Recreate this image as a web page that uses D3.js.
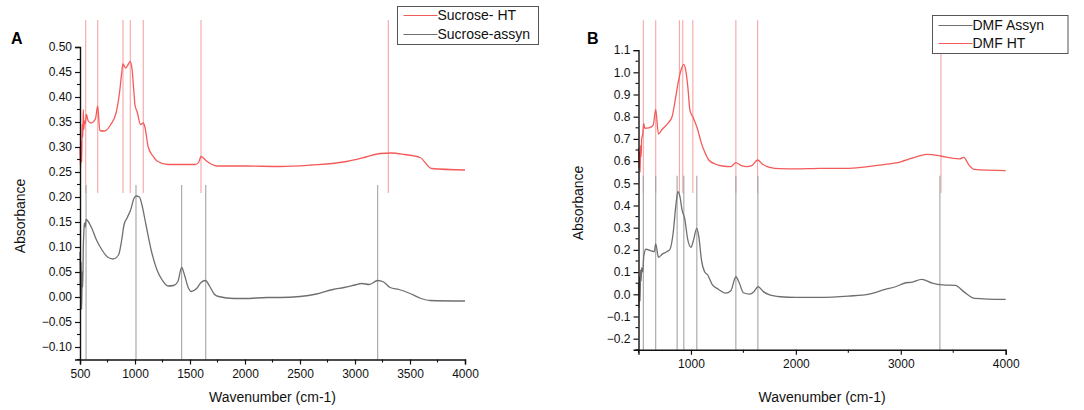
<!DOCTYPE html>
<html><head><meta charset="utf-8">
<script src="https://cdn.jsdelivr.net/npm/d3@7"></script>
<style>body{margin:0;background:#fff;}svg{display:block;font-family:"Liberation Sans",Arial,sans-serif;}</style>
</head><body>
<svg id="c" width="1084" height="410"></svg>
<script>
// ---------- Panel A data ----------
const sucHT_wn  = [500,505,510,515,520,525,530,535,540,548,558,575,600,640,661,680,720,780,830,860,880,890,915,940,957,975,990,1000,1020,1050,1075,1090,1120,1167,1200,1300,1550,1580,1600,1650,1700,1750,2000,2318,2600,2924,3100,3227,3330,3450,3591,3697,4000];
const sucHT_abs = [0.300,0.255,0.310,0.270,0.345,0.320,0.375,0.335,0.352,0.346,0.365,0.352,0.348,0.356,0.382,0.333,0.332,0.345,0.370,0.410,0.450,0.466,0.458,0.466,0.471,0.452,0.410,0.384,0.370,0.345,0.348,0.340,0.300,0.281,0.272,0.265,0.265,0.270,0.281,0.272,0.265,0.262,0.262,0.261,0.264,0.271,0.280,0.287,0.288,0.285,0.279,0.257,0.254];
const sucAs_wn  = [500,505,510,515,520,525,530,535,540,548,555,600,650,700,750,800,850,879,900,930,960,990,1010,1040,1060,1100,1150,1200,1250,1300,1350,1390,1424,1450,1480,1510,1560,1600,1640,1680,1720,1760,1900,2000,2200,2318,2500,2650,2800,2900,3000,3060,3130,3206,3260,3320,3400,3500,3600,3680,4000];
const sucAs_abs = [0.090,-0.020,0.070,-0.025,0.050,0.020,0.100,0.130,0.148,0.140,0.155,0.141,0.114,0.094,0.080,0.076,0.084,0.114,0.144,0.159,0.174,0.197,0.202,0.200,0.187,0.144,0.091,0.054,0.033,0.022,0.023,0.031,0.059,0.044,0.021,0.011,0.017,0.029,0.033,0.021,0.006,0.001,-0.003,-0.003,-0.001,-0.001,0.001,0.006,0.015,0.019,0.024,0.027,0.025,0.033,0.030,0.019,0.015,0.007,-0.003,-0.007,-0.008];
const sucHT_marks = [552,661,891,957,1075,1600,3303];
const sucAs_marks = [555,1009,1424,1643,3206];
const A_xTicks = [500,1000,1500,2000,2500,3000,3500,4000];
const A_yTicks = [-0.10,-0.05,0,0.05,0.10,0.15,0.20,0.25,0.30,0.35,0.40,0.45,0.50];
const A_names = ["Sucrose- HT","Sucrose-assyn"];

// ---------- Panel B data ----------
const dmfHT_wn  = [500,505,510,515,520,525,530,540,550,560,600,640,664,690,720,780,820,850,880,905,930,950,970,990,1020,1060,1100,1130,1170,1230,1300,1380,1428,1480,1530,1580,1635,1680,1750,1850,2000,2234,2500,2800,3000,3100,3250,3380,3500,3560,3600,3650,3700,4000];
const dmfHT_abs = [0.660,0.570,0.640,0.550,0.670,0.620,0.700,0.720,0.770,0.748,0.750,0.762,0.833,0.722,0.740,0.770,0.800,0.875,0.958,1.010,1.036,1.010,0.935,0.830,0.797,0.748,0.680,0.642,0.605,0.587,0.578,0.575,0.593,0.580,0.575,0.580,0.605,0.587,0.572,0.566,0.565,0.567,0.567,0.582,0.597,0.612,0.630,0.623,0.612,0.610,0.617,0.582,0.563,0.557];
const dmfAs_wn  = [500,505,510,515,520,525,530,540,550,570,620,650,664,690,730,770,800,830,855,875,895,915,940,970,1000,1025,1055,1075,1100,1130,1160,1200,1260,1330,1380,1428,1460,1500,1560,1600,1640,1690,1750,1850,2000,2234,2500,2700,2850,2950,3050,3100,3200,3300,3400,3520,3600,3700,4000];
const dmfAs_abs = [0.050,-0.060,0.080,-0.030,0.110,0.060,0.120,0.100,0.170,0.203,0.196,0.192,0.227,0.167,0.182,0.192,0.203,0.275,0.395,0.462,0.440,0.380,0.342,0.245,0.212,0.245,0.297,0.260,0.155,0.102,0.087,0.046,0.023,0.005,0.016,0.079,0.052,0.007,0.001,0.012,0.034,0.012,-0.003,-0.011,-0.014,-0.014,-0.008,0.001,0.022,0.034,0.052,0.054,0.067,0.050,0.042,0.040,0.012,-0.018,-0.023];
const dmfHT_marks = [546,664,890,922,1018,1428,1635,3383];
const dmfAs_marks = [546,664,868,932,1056,1428,1638,3373];
const B_xTicks = [1000,2000,3000,4000];
const B_xMinor = [500,1500,2500,3500];
const B_yTicks = [-0.2,-0.1,0,0.1,0.2,0.3,0.4,0.5,0.6,0.7,0.8,0.9,1.0,1.1];
const B_names = ["DMF Assyn","DMF HT"];

const RED="#f55a5a", REDL="#f7a5a5", GRAY="#6f6f6f", GRAYL="#a3a3a3";
const svg = d3.select("#c");

function zip(w,a){return w.map((x,i)=>[x,a[i]]);}

function panel(cfg){
  const g = svg.append("g");
  const x = d3.scaleLinear().domain([500,4000]).range(cfg.xr);
  const y = d3.scaleLinear().domain(cfg.yd).range(cfg.yr);
  // marker lines
  cfg.marks.forEach(m=>{
    g.selectAll(null).data(m.xs).enter().append("line")
      .attr("x1",d=>x(d)).attr("x2",d=>x(d))
      .attr("y1",y(m.top)).attr("y2",y(m.bot))
      .attr("stroke",m.color).attr("stroke-width",1.1);
  });
  const line = d3.line().x(d=>x(d[0])).y(d=>y(d[1])).curve(d3.curveMonotoneX);
  cfg.series.forEach(s=>{
    g.append("path").datum(zip(s.wn,s.abs)).attr("d",line)
      .attr("fill","none").attr("stroke",s.color).attr("stroke-width",1.3);
  });
  // axes
  const yAx = d3.axisLeft(y).tickValues(cfg.yTicks).tickSizeOuter(0).tickSize(5).tickPadding(3).tickFormat(cfg.yFmt);
  const yg = g.append("g").attr("transform",`translate(${cfg.xr[0]},0)`).call(yAx);
  const xAx = d3.axisBottom(x).tickValues(cfg.xTicks).tickSizeOuter(0).tickSize(5).tickPadding(5).tickFormat(d3.format("d"));
  const xg = g.append("g").attr("transform",`translate(0,${cfg.yr[0]})`).call(xAx);
  [yg,xg].forEach(a=>{
    a.select(".domain").attr("stroke","#111").attr("stroke-width",1.4);
    a.selectAll(".tick line").attr("stroke","#111").attr("stroke-width",1.2);
    a.selectAll("text").attr("font-size",12).attr("fill","#111").attr("font-family","Liberation Sans, Arial, sans-serif");
  });
  // minor ticks
  g.selectAll(null).data(cfg.yMinor).enter().append("line")
    .attr("x1",cfg.xr[0]-3).attr("x2",cfg.xr[0]).attr("y1",d=>y(d)).attr("y2",d=>y(d))
    .attr("stroke","#111").attr("stroke-width",1.1);
  g.selectAll(null).data(cfg.xMinor).enter().append("line")
    .attr("y1",cfg.yr[0]).attr("y2",cfg.yr[0]+3).attr("x1",d=>x(d)).attr("x2",d=>x(d))
    .attr("stroke","#111").attr("stroke-width",1.1);
  // titles
  g.append("text").attr("x",(cfg.xr[0]+cfg.xr[1])/2).attr("y",402).attr("text-anchor","middle")
    .attr("font-size",14).attr("fill","#111").text("Wavenumber (cm-1)");
  g.append("text").attr("transform",`translate(${cfg.ylx},${cfg.yly}) rotate(-90)`).attr("text-anchor","middle")
    .attr("font-size",14).attr("fill","#111").text("Absorbance");
  g.append("text").attr("x",cfg.lab[0]).attr("y",cfg.lab[1]).attr("font-size",16).attr("font-weight","bold")
    .attr("fill","#000").text(cfg.label);
  // legend
  const L = cfg.legend;
  g.append("rect").attr("x",L.x).attr("y",L.y).attr("width",L.w).attr("height",L.h)
    .attr("fill","#fff").attr("stroke","#555").attr("stroke-width",1);
  L.items.forEach((it,i)=>{
    const yy = L.y + L.first + i*L.step;
    g.append("line").attr("x1",L.x+6).attr("x2",L.x+40).attr("y1",yy).attr("y2",yy)
      .attr("stroke",it.color).attr("stroke-width",1.2);
    g.append("text").attr("x",L.x+40).attr("y",yy).attr("dy","0.35em").attr("font-size",14)
      .attr("fill","#111").text(it.name);
  });
}

const minor = (lo,hi,st)=>d3.range(Math.round((hi-lo)/st)+1).map(i=>+(lo+i*st).toFixed(4));

panel({
  xr:[80,465], yd:[-0.125,0.5], yr:[359.5,47],
  yTicks:A_yTicks, yMinor:minor(-0.125,0.475,0.05), yFmt:d3.format(".2f"),
  xTicks:A_xTicks, xMinor:minor(750,3750,500),
  marks:[{xs:sucHT_marks,color:REDL,top:0.554,bot:0.208},{xs:sucAs_marks,color:GRAYL,top:0.224,bot:-0.125}],
  series:[{wn:sucAs_wn,abs:sucAs_abs,color:GRAY},{wn:sucHT_wn,abs:sucHT_abs,color:RED}],
  ylx:25, yly:216, lab:[11,44], label:"A",
  legend:{x:397.5,y:6.5,w:141,h:38,first:9,step:19,items:[{name:A_names[0],color:RED},{name:A_names[1],color:GRAY}]}
});
panel({
  xr:[638.5,1005.7], yd:[-0.25,1.1], yr:[349.8,50.1],
  yTicks:B_yTicks, yMinor:minor(-0.25,1.05,0.1), yFmt:d3.format(".1f"),
  xTicks:B_xTicks, xMinor:B_xMinor,
  marks:[{xs:dmfHT_marks,color:REDL,top:1.235,bot:0.456},{xs:dmfAs_marks,color:GRAYL,top:0.534,bot:-0.25}],
  series:[{wn:dmfHT_wn,abs:dmfHT_abs,color:RED},{wn:dmfAs_wn,abs:dmfAs_abs,color:GRAY}],
  ylx:583, yly:203, lab:[587,44], label:"B",
  legend:{x:932.5,y:15.5,w:135.5,h:38,first:10,step:18,items:[{name:B_names[0],color:GRAY},{name:B_names[1],color:RED}]}
});
</script>
</body></html>
